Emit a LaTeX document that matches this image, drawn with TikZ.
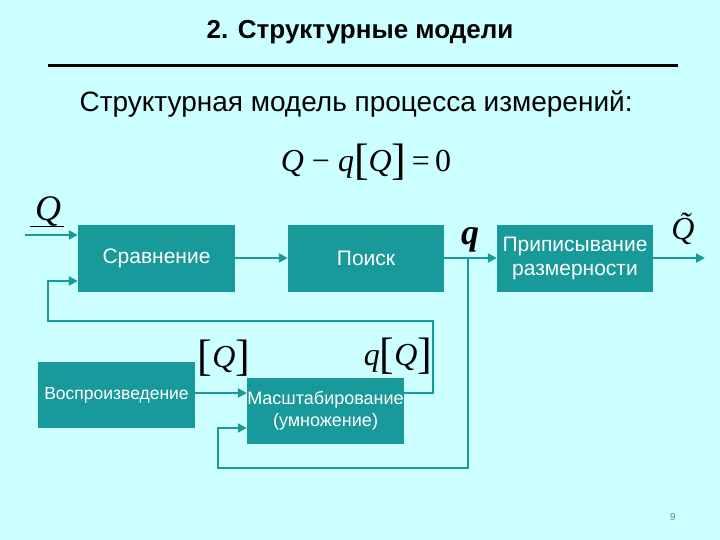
\documentclass[tikz,border=0pt]{standalone}
\usepackage{fontspec}
\setmainfont{Liberation Sans}
\newfontfamily\tms{Liberation Serif}
\usetikzlibrary{arrows.meta}
\definecolor{bg}{HTML}{CCFFFF}
\definecolor{teal1}{HTML}{199A9A}
\begin{document}
\begin{tikzpicture}[x=1pt,y=-1pt,
 blk/.style={fill=teal1,text=white,inner sep=0pt,align=center,font=\fontsize{21}{24}\selectfont},
 ln/.style={draw=teal1,line width=2.6pt},
 ar/.style={ln,-{Triangle[length=9pt,width=9pt]}},
 mth/.style={font=\tms\itshape\fontsize{36}{36}\selectfont}]
\fill[bg] (0,0) rectangle (720,540);
\useasboundingbox (0,0) rectangle (720,540);
\node[font=\bfseries\fontsize{26}{30}\selectfont] (title) at (360,32) {2. Структурные модели};
\draw[line width=3pt] (48,66) -- (678,66);
\node[anchor=west,font=\fontsize{28}{32}\selectfont] (sub) at (76,104) {Структурная модель процесса измерений:};
\node[font=\tms\fontsize{32}{32}\selectfont] (eq) at (366,162) {\textit{Q} − \textit{q}\raisebox{-3pt}{\fontsize{44}{44}\selectfont[}\textit{Q}\raisebox{-3pt}{\fontsize{44}{44}\selectfont]}\,=\,0};
\node[blk,minimum width=157pt,minimum height=67pt] (cmp) at (156.5,258.5) {Сравнение};
\node[blk,minimum width=156pt,minimum height=67pt] (srch) at (366,258.5) {Поиск};
\node[blk,minimum width=156pt,minimum height=67pt] (dim) at (575,258.5) {Приписывание\\размерности};
\node[blk,minimum width=157pt,minimum height=66pt,font=\fontsize{17.5}{20}\selectfont] (rep) at (116.5,395) {Воспроизведение};
\node[blk,minimum width=157pt,minimum height=66pt,font=\fontsize{18}{22}\selectfont] (scl) at (325.5,411) {Масштабирование\\(умножение)};
\coordinate (in) at (25,235);
\coordinate (out) at (705,258);
\coordinate (br) at (468,258);
\draw[ar] (in) -- (cmp.west |- in);
\draw[ar] (cmp.east |- 0,258) -- (srch.west |- 0,258);
\draw[ar] (srch.east |- 0,258) -- (dim.west |- 0,258);
\draw[ar] (dim.east |- out) -- (out);
\draw[ar] (scl.east |- 0,393) -- (433,393) -- (433,321) -- (48,321) -- (48,281) -- (cmp.west |- 0,281);
\draw[ar] (rep.east |- 0,393) -- (scl.west |- 0,393);
\draw[ar] (br) -- (468,468) -- (218,468) -- (218,428) -- (scl.west |- 0,428);
\node[mth] (lQ) at (48,212) {Q};
\draw[line width=1pt] (30,227) -- (64,227);
\node[mth,font=\tms\bfseries\itshape\fontsize{36}{36}\selectfont] (lq) at (470,240) {q};
\node[mth,font=\tms\itshape\fontsize{32}{32}\selectfont] (lQt) at (683,229) {\~{Q}};
\node[font=\tms\fontsize{32}{32}\selectfont] (lbQ) at (224,358) {\raisebox{-3pt}{\fontsize{44}{44}\selectfont[}\textit{Q}\raisebox{-3pt}{\fontsize{44}{44}\selectfont]}};
\node[font=\tms\fontsize{32}{32}\selectfont] (lqQ) at (398,356) {\textit{q}\raisebox{-3pt}{\fontsize{44}{44}\selectfont[}\textit{Q}\raisebox{-3pt}{\fontsize{44}{44}\selectfont]}};
\node[text=gray,font=\fontsize{10}{12}\selectfont] (pg) at (673,517) {9};
\end{tikzpicture}
\end{document}
